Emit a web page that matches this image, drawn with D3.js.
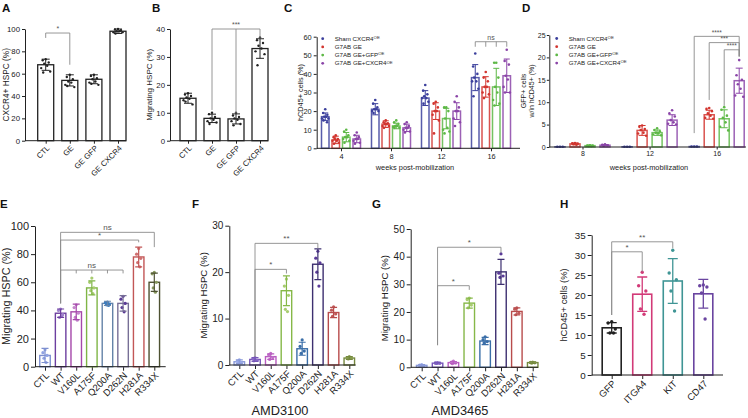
<!DOCTYPE html>
<html><head><meta charset="utf-8">
<script src="https://cdn.jsdelivr.net/npm/d3@7"></script>
<style>body{margin:0;background:#fff}svg{display:block;font-family:"Liberation Sans",Arial,sans-serif}</style>
</head><body><svg id="c" width="748" height="418"></svg>
<script>
// ---------------- DATA ----------------
// Panel A
const aCats = ["CTL","GE","GE GFP","GE CXCR4"];
const aMeans = [68, 54, 55, 98];
const aSD = [5, 5, 4, 2];
const aPts = [[73,72,70,69,67,65,62,61],[59,57,55,53,52,50,48,49],[59,58,56,55,53,52,50,51],[100,99.5,99,98,98,97,97,96]];
// Panel B
const bCats = ["CTL","GE","GE GFP","GE CXCR4"];
const bMeans = [15.2, 8, 7.8, 33];
const bSD = [1.8, 1.5, 1.8, 3.5];
const bPts = [[17,16.5,16,15.5,15,14.5,13,14],[10,9.5,8.5,8,7.5,7,6.5,6],[10,9,8.5,8,7.5,7,6,5.5],[37,36,35,34,33,32,31,27]];
// Panel C (series x weeks)
const cWeeks = ["4","8","12","16"];
const cSeries = ["Sham CXCR4","G7AB GE","G7AB GE+GFP","G7AB GE+CXCR4"];
const cSup = ["OE","","OE","OE"];
const cMeans = [[17,21,27,38],[4.5,13,20,33],[6,12,16,33],[5,11,20,39]];
const cSD = [[2,3,4,7],[2,1.8,4.5,5.5],[2.5,1.5,5.5,10],[2,2,4.5,9]];
const cPts = [
 [[21,19,18,17,17,16,16,15,14],[26,24,22,21,21,20,20,19],[34,31,29,28,27,27,25,24],[51,44,40,38,36,36,32,28]],
 [[7,6,5,5,4,4,3,2.5],[15,14,13.5,13,13,12,12,11],[25,24,22,20,20,18,15,8],[41,38,36,33,33,30,29,27]],
 [[10,9,7,6,6,5,4,3],[15,14,13,12,12,11.5,11,11],[22,22,20,16,11,10,9,8],[46,46,38,33,30,26,24,23]],
 [[8.5,7,6,5,5,4,3,2.5],[14,13,12,11,11,10,9,8.5],[28,25,22,20,20,16,14,12],[53,47,45,39,37,33,30,30]]
];
// Panel D
const dWeeks = ["8","12","16"];
const dMeans = [[0.05,0.05,0.1],[0.7,3.7,7.2],[0.3,3.2,6.3],[0.4,6.0,14.8]];
const dSD = [[0,0,0],[0.2,1.1,1.0],[0.1,0.6,2.0],[0.15,1.2,2.8]];
const dPts = [
 [[0.05,0.05,0.05],[0.05,0.05,0.05],[0.1,0.1,0.1]],
 [[0.9,0.8,0.7,0.6,0.5],[4.8,4.5,4,3.8,3.2,3,2.5],[8.7,8.5,8,7.5,7,6.5,6.3]],
 [[0.4,0.35,0.3,0.25,0.2],[4.2,3.8,3.5,3.2,3,2.8,2.6],[8.9,8.3,7,6.5,5.5,4.5,3.7]],
 [[0.6,0.5,0.4,0.3],[8.2,7.5,6.8,6,5.5,5.2,5],[19.4,16,15,14,13,11.5,11.2]]
];
// Panels E, F, G
const mutCats = ["CTL","WT","V160L","A175F","Q200A","D262N","H281A","R334X"];
const eMeans = [8,38,39,56,45,45,78,60];
const eSD = [5,3,5.5,5,1.5,5.5,7,6.5];
const ePts = [[12,10,8,6,3],[41,40,37,35,36],[44,42,38,35,33],[63,60,56,54,52],[46,45.5,44.5,44,43.5],[50,48,45,42,39],[84,80,77,74,71],[67,66,60,56,53]];
const fMeans = [0.7,1.2,1.8,16,3.5,21.7,11.3,1.5];
const fSD = [0.4,0.4,0.6,3.2,1.4,3.3,1.1,0.3];
const fPts = [[1.1,0.8,0.5,0.3],[1.6,1.4,1.0,0.9],[2.5,2.2,1.6,1.2],[18.5,17,15,12,11.5],[5.4,4,3,2.5],[24.5,23,22,20,17],[12.5,11.8,11,10.5],[1.8,1.6,1.5,1.3]];
const gMeans = [0.7,1.5,1.7,23.2,9.5,34.5,20.2,1.7];
const gSD = [0.3,0.3,0.4,1.8,1.3,4.5,1.3,0.3];
const gPts = [[1,0.8,0.5,0.4],[1.7,1.6,1.5,1.4],[2.2,1.9,1.6,1.3],[25,24.5,22.5,21.5],[11,10,9.3,8.8],[41,34,33,32.5],[21.5,21,19.5,19],[1.9,1.8,1.6,1.5]];
// Panel H
const hCats = ["GFP","ITGA4","KIT","CD47"];
const hMeans = [11.8,20.2,23.5,20.3];
const hSD = [1.3,4.3,5.6,3.6];
const hPts = [[13.3,13,11.5,10.5,10.5],[25.7,22.3,21,16.5,15.2],[31.2,25.5,23.8,21,16],[22.5,22.3,22,20.5,14]];
// Significance annotations (values in data units)
const aSig = [{a:"CTL",b:"GE",top:96.4,la:92,lb:68,label:"*"}];
const bSig = [{a:"GE",b:"GE CXCR4",mids:["GE GFP"],top:40,la:11,lb:36.7,ml:9.8,label:"***"}];
const eSig = [{a:"WT",b:"R334X",top:95.5,la:45,lb:85,label:"ns"},{a:"WT",b:"H281A",top:90,la:45,lb:88.4,label:"*"},{a:"WT",b:"D262N",mids:["V160L","A175F","Q200A"],top:68.7,la:45,lb:66.3,ml:66.3,label:"ns"}];
const fSig = [{a:"WT",b:"D262N",top:26.2,la:1.8,lb:25.1,label:"**"},{a:"WT",b:"A175F",top:20.6,la:1.8,lb:19.7,label:"*"}];
const gSig = [{a:"WT",b:"D262N",top:43.4,la:8,lb:41.4,label:"*"},{a:"WT",b:"A175F",top:29.5,la:8,lb:28,label:"*"}];
const hSig = [{a:"GFP",b:"KIT",top:33.3,la:15,lb:31.7,label:"**"},{a:"GFP",b:"ITGA4",top:30.8,la:15,lb:25.8,label:"*"}];

// ---------------- STYLE ----------------
const FONT = "Liberation Sans, Arial, sans-serif";
const INK = "#222";
const SIG = "#8a8a8a";
const JIT = [0,-3,3,-1.5,1.5,-4.5,4.5,-2.5,2.5];
const cColors = ["#3b3f9c","#d2352f","#5db846","#8b45a8"];
const eColors = ["#7d8fd0","#6c3e9f","#a548aa","#7fb545","#6483a8","#776f96","#c25656","#4e5232"];
const ePtCol  = ["#90a2e2","#a084cc","#c486cc","#a8cc70","#3d7dbf","#5b3a96","#d07070","#8a9a60"];
const fColors = ["#8898d8","#7656b8","#b85cc0","#86b848","#3a6ea8","#3d2f70","#b84c4c","#75883e"];
const fPtCol  = ["#98a8e8","#8a6ac8","#c070c8","#a8cc70","#3a6ea8","#5a3a98","#c05858","#88a050"];
const hColors = ["#222222","#d23a78","#3f9595","#6a45a0"];

const svg = d3.select("#c");

function styleAxis(sel, fs){
  sel.attr("font-family", FONT).attr("font-size", fs);
  sel.selectAll("path,line").attr("stroke", INK);
  sel.selectAll("text").attr("fill", INK);
}
function ylab(g, lines, cx, cy, fs){
  lines.forEach((t,i)=>{
    g.append("text").attr("transform",`translate(${cx + i*fs*1.15},${cy}) rotate(-90)`)
     .attr("text-anchor","middle").attr("dy","0.35em").attr("font-size",fs).attr("fill",INK).text(t);
  });
}
function panelLabel(t,x,y){
  svg.append("text").attr("x",x).attr("y",y).attr("font-size",11.5).attr("font-weight","bold").attr("fill","#111").text(t);
}
function drawSig(g, x, y, list, fs){
  list.forEach(s=>{
    const xa = x(s.a), xb = x(s.b);
    let d = `M${xa},${y(s.la)}V${y(s.top)}H${xb}V${y(s.lb)}`;
    (s.mids||[]).forEach(m=>{ d += `M${x(m)},${y(s.top)}V${y(s.ml)}`; });
    g.append("path").attr("d",d).attr("fill","none").attr("stroke",SIG).attr("stroke-width",0.9);
    g.append("text").attr("x",(xa+xb)/2).attr("y",y(s.top)-2).attr("text-anchor","middle")
     .attr("font-size",fs).attr("fill","#555").text(s.label);
  });
}
function errBar(g, cx, y0, y1, cap, col, sw){
  g.append("path").attr("d",`M${cx},${y0}V${y1}M${cx-cap/2},${y0}H${cx+cap/2}M${cx-cap/2},${y1}H${cx+cap/2}`)
   .attr("stroke",col).attr("stroke-width",sw).attr("fill","none");
}

function barPanel(o){
  const g = svg.append("g").attr("font-family",FONT);
  const y = d3.scaleLinear().domain([0,o.yMax]).range([o.yBot,o.yTop]);
  const x = d3.scalePoint().domain(o.cats).range([o.c0,o.c1]);
  const ya = g.append("g").attr("transform",`translate(${o.x0},0)`)
    .call(d3.axisLeft(y).tickValues(o.ticks).tickSize(o.tk).tickSizeOuter(0).tickPadding(2));
  styleAxis(ya, o.tickFs);
  const xa = g.append("g").attr("transform",`translate(0,${o.yBot})`)
    .call(d3.axisBottom(x).tickSize(o.tk).tickSizeOuter(0));
  xa.select(".domain").remove();
  styleAxis(xa, o.xFs);
  xa.selectAll("text").attr("x",0).attr("y",0).attr("dy","0.35em").attr("text-anchor","end")
    .attr("transform",`translate(${o.xdx},${o.xdy}) rotate(-45)`);
  const bw = o.barW;
  o.cats.forEach((c,i)=>{
    const cx = x(c), col = o.colors[i];
    g.append("rect").attr("x",cx-bw/2).attr("y",y(o.means[i])).attr("width",bw)
     .attr("height",y(0)-y(o.means[i])).attr("fill","#fff").attr("stroke",col).attr("stroke-width",o.bsw);
    o.pts[i].forEach((v,j)=>{
      g.append("circle").attr("cx",cx+JIT[j%JIT.length]*o.jit).attr("cy",y(v)).attr("r",o.r).attr("fill",o.ptColors[i]);
    });
    errBar(g, cx, y(o.means[i]-o.sd[i]), y(o.means[i]+o.sd[i]), o.cap, col, o.esw);
  });
  g.append("line").attr("x1",o.x0).attr("x2",o.x1).attr("y1",o.yBot).attr("y2",o.yBot).attr("stroke",INK);
  drawSig(g, x, y, o.sig, o.sigFs);
  ylab(g, o.ylabel, o.ylx, (o.yTop+o.yBot)/2, o.ylFs);
  return {g,x,y};
}

function groupPanel(o){
  const g = svg.append("g").attr("font-family",FONT);
  const y = d3.scaleLinear().domain([0,o.yMax]).range([o.yBot,o.yTop]);
  const x = d3.scalePoint().domain(o.groups).range([o.c0,o.c1]);
  const xs = d3.scaleBand().domain(d3.range(4)).range([-o.inner*2,o.inner*2]);
  const ya = g.append("g").attr("transform",`translate(${o.x0},0)`)
    .call(d3.axisLeft(y).tickValues(o.ticks).tickSize(o.tk).tickSizeOuter(0).tickPadding(o.tp));
  styleAxis(ya, o.tickFs);
  const xa = g.append("g").attr("transform",`translate(0,${o.yBot})`)
    .call(d3.axisBottom(x).tickSize(o.tk).tickSizeOuter(0).tickPadding(2));
  xa.select(".domain").remove();
  styleAxis(xa, o.tickFs);
  const bw = o.barW;
  const sx = (gi,si)=> x(o.groups[gi]) + xs(si) + xs.bandwidth()/2;
  for(let s=0;s<4;s++){
    const col = cColors[s];
    o.groups.forEach((w,gi)=>{
      const cx = sx(gi,s), m = o.means[s][gi], sd = o.sd[s][gi];
      g.append("rect").attr("x",cx-bw/2).attr("y",y(m)).attr("width",bw).attr("height",Math.max(0,y(0)-y(m)))
       .attr("fill","#fff").attr("stroke",col).attr("stroke-width",1.5).attr("stroke-opacity",0.85);
      o.pts[s][gi].forEach((v,j)=>{
        g.append("circle").attr("cx",cx+JIT[j%JIT.length]*o.jit).attr("cy",y(v)).attr("r",1.3).attr("fill",col);
      });
      if(sd>0) errBar(g, cx, y(m-sd), y(m+sd), o.cap, col, 1);
    });
  }
  g.append("line").attr("x1",o.x0).attr("x2",o.x1).attr("y1",o.yBot).attr("y2",o.yBot).attr("stroke",INK);
  // legend
  cSeries.forEach((t,i)=>{
    const ly = o.legY + i*8.2;
    g.append("circle").attr("cx",o.legX).attr("cy",ly).attr("r",1.4).attr("fill",cColors[i]);
    const tx = g.append("text").attr("x",o.legX+12).attr("y",ly).attr("dy","0.35em").attr("font-size",6.2).attr("fill",INK).text(t);
    if(cSup[i]) tx.append("tspan").attr("dy","-0.45em").attr("font-size",4.3).text(cSup[i]);
  });
  g.append("text").attr("x",o.xlX).attr("y",o.xlY).attr("text-anchor","middle").attr("font-size",7.4).attr("fill",INK).text("weeks post-mobilization");
  ylab(g, o.ylabel, o.ylx, (o.yTop+o.yBot)/2, o.ylFs);
  return {g,x,y,sx};
}

// ---------------- PANELS ----------------
barPanel({cats:aCats,means:aMeans,sd:aSD,pts:aPts,colors:aCats.map(()=>INK),ptColors:aCats.map(()=>INK),
  x0:25,x1:126,c0:45.7,c1:118,yTop:29,yBot:140.7,yMax:100,ticks:[0,20,40,60,80,100],tk:3,tickFs:7.8,xFs:7.8,xdx:2,xdy:6,
  barW:16,bsw:1.3,cap:8,esw:1,r:1.2,jit:1,sig:aSig,sigFs:7,ylabel:["CXCR4+ HSPC (%)"],ylx:6,ylFs:8.3});
barPanel({cats:bCats,means:bMeans,sd:bSD,pts:bPts,colors:bCats.map(()=>INK),ptColors:bCats.map(()=>INK),
  x0:170,x1:268,c0:188,c1:260,yTop:29,yBot:140.7,yMax:40,ticks:[0,10,20,30,40],tk:3,tickFs:7.8,xFs:7.8,xdx:2,xdy:6,
  barW:16,bsw:1.3,cap:8,esw:1,r:1.2,jit:1,sig:bSig,sigFs:7,ylabel:["Migrating HSPC (%)"],ylx:149,ylFs:8});

const C = groupPanel({groups:cWeeks,means:cMeans,sd:cSD,pts:cPts,x0:316.7,x1:520,c0:341,c1:491,inner:10.5,barW:7.5,cap:6,jit:0.7,
  yTop:36.7,yBot:148.3,yMax:60,ticks:[0,10,20,30,40,50,60],tk:3,tp:2,tickFs:7.4,legX:322.7,legY:38.7,xlX:415,xlY:169.5,
  ylabel:["hCD45+ cells (%)"],ylx:300,ylFs:7.3});
// C significance (ns across week 16)
{
  const y = C.y, top = 57.3, leg = 54.6;
  const xs = d3.range(4).map(s=>C.sx(3,s));
  let d = `M${xs[0]},${y(leg)}V${y(top)}H${xs[3]}V${y(leg)}`;
  xs.slice(1,3).forEach(v=>{ d += `M${v},${y(top)}V${y(leg)}`; });
  C.g.append("path").attr("d",d).attr("fill","none").attr("stroke",SIG).attr("stroke-width",0.9);
  C.g.append("text").attr("x",(xs[0]+xs[3])/2).attr("y",y(top)-2).attr("text-anchor","middle").attr("font-size",7).attr("fill","#555").text("ns");
}
const D = groupPanel({groups:dWeeks,means:dMeans,sd:dSD,pts:dPts,x0:549.3,x1:746,c0:582.5,c1:716.7,inner:15,barW:10,cap:7,jit:0.9,
  yTop:35,yBot:147,yMax:25,ticks:[0,5,10,15,20,25],tk:2.5,tp:1.2,tickFs:7,legX:556.7,legY:38.5,xlX:649,xlY:170,
  ylabel:["GFP+ cells","w/in hCD45+ (%)"],ylx:523.5,ylFs:7});
{
  const y = D.y, xp = D.sx(2,3);
  [{s:0,top:24.7,leg:3.1,l:"****"},{s:1,top:23.3,leg:10.5,l:"***"},{s:2,top:21.7,leg:9.2,l:"****"}].forEach(b=>{
    const xa = D.sx(2,b.s);
    D.g.append("path").attr("d",`M${xa},${y(b.leg)}V${y(b.top)}H${xp}V${y(20.2)}`).attr("fill","none").attr("stroke",SIG).attr("stroke-width",0.9);
    D.g.append("text").attr("x",(xa+xp)/2).attr("y",y(b.top)-1.5).attr("text-anchor","middle").attr("font-size",6.5).attr("fill","#555").text(b.l);
  });
}

barPanel({cats:mutCats,means:eMeans,sd:eSD,pts:ePts,colors:eColors,ptColors:ePtCol,
  x0:35,x1:165.7,c0:45,c1:154.3,yTop:226,yBot:366.7,yMax:100,ticks:[0,20,40,60,80,100],tk:4,tickFs:11,xFs:9.5,xdx:2,xdy:7,
  barW:10.5,bsw:1.4,cap:7,esw:1.2,r:1.6,jit:0.7,sig:eSig,sigFs:8,ylabel:["Migrating HSPC (%)"],ylx:6,ylFs:10.8});
barPanel({cats:mutCats,means:fMeans,sd:fSD,pts:fPts,colors:fColors,ptColors:fPtCol,
  x0:229.3,x1:355.7,c0:239.3,c1:349.3,yTop:225.7,yBot:365,yMax:30,ticks:[0,10,20,30],tk:4,tickFs:10,xFs:9.5,xdx:2,xdy:7,
  barW:10.5,bsw:1.4,cap:7,esw:1.2,r:1.6,jit:0.7,sig:fSig,sigFs:8,ylabel:["Migrating HSPC (%)"],ylx:204,ylFs:9.6});
barPanel({cats:mutCats,means:gMeans,sd:gSD,pts:gPts,colors:fColors,ptColors:fPtCol,
  x0:410.7,x1:538,c0:421.7,c1:532.7,yTop:229,yBot:367.3,yMax:50,ticks:[0,10,20,30,40,50],tk:4,tickFs:10,xFs:9.5,xdx:2,xdy:7,
  barW:10.5,bsw:1.4,cap:7,esw:1.2,r:1.6,jit:0.7,sig:gSig,sigFs:8,ylabel:["Migrating HSPC (%)"],ylx:385,ylFs:9.6});
barPanel({cats:hCats,means:hMeans,sd:hSD,pts:hPts,colors:hColors,ptColors:hColors,
  x0:591.7,x1:723,c0:611.7,c1:703.3,yTop:235,yBot:375,yMax:35,ticks:[0,5,10,15,20,25,30,35],tk:4,tickFs:9.8,xFs:9.5,xdx:2,xdy:7,
  barW:19,bsw:1.6,cap:10,esw:1.3,r:1.7,jit:1.2,sig:hSig,sigFs:8,ylabel:["hCD45+ cells (%)"],ylx:564,ylFs:9.4});

svg.append("text").attr("x",280).attr("y",415).attr("text-anchor","middle").attr("font-size",12.8).attr("fill",INK).attr("font-family",FONT).text("AMD3100");
svg.append("text").attr("x",460).attr("y",415).attr("text-anchor","middle").attr("font-size",12.8).attr("fill",INK).attr("font-family",FONT).text("AMD3465");

panelLabel("A",2,12); panelLabel("B",152,12); panelLabel("C",284,12); panelLabel("D",522,12);
panelLabel("E",0,208); panelLabel("F",192,208); panelLabel("G",372,208); panelLabel("H",560,208);
svg.selectAll("text").attr("font-family",FONT);
</script></body></html>
